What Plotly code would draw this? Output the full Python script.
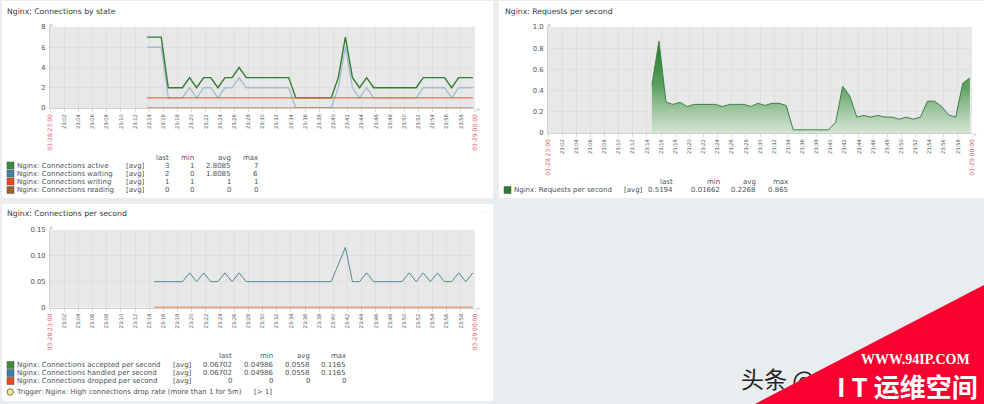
import plotly.graph_objects as go

W = 984
H = 404

# sample times, minutes after 23:00
minutes = [13.7, 14.7, 15.7, 16.7, 17.7, 18.7, 19.7, 20.7, 21.7, 22.7, 23.7, 24.7,
           25.7, 26.7, 27.7, 28.7, 29.7, 30.7, 31.7, 32.7, 33.7, 34.7, 35.7, 36.7,
           37.7, 38.7, 39.7, 40.7, 41.7, 42.7, 43.7, 44.7, 45.7, 46.7, 47.7, 48.7,
           49.7, 50.7, 51.7, 52.7, 53.7, 54.7, 55.7, 56.7, 57.7, 58.7, 59.7]

active = [7, 7, 7, 2, 2, 2, 3, 2, 3, 3, 2, 3, 3, 4, 3, 3, 3, 3, 3, 3, 3, 1, 1, 1,
          1, 1, 1, 3, 7, 3, 2, 3, 2, 2, 2, 2, 2, 2, 2, 3, 3, 3, 3, 2, 3, 3, 3]
waiting = [6, 6, 6, 1, 1, 1, 2, 1, 2, 2, 1, 2, 2, 3, 2, 2, 2, 2, 2, 2, 2, 0, 0, 0,
           0, 0, 0, 2, 6, 2, 1, 2, 1, 1, 1, 1, 1, 1, 1, 2, 2, 2, 2, 1, 2, 2, 2]
writing = [1] * 47
reading = [0] * 47

requests = [0.45, 0.865, 0.29, 0.27, 0.29, 0.25, 0.27, 0.27, 0.27, 0.27, 0.25, 0.27,
            0.27, 0.27, 0.25, 0.28, 0.26, 0.28, 0.28, 0.26, 0.03, 0.03, 0.03, 0.03,
            0.03, 0.03, 0.10, 0.44, 0.35, 0.15, 0.165, 0.15, 0.165, 0.15, 0.15, 0.13,
            0.15, 0.13, 0.15, 0.30, 0.30, 0.25, 0.17, 0.15, 0.47, 0.5194]

conn_rate = [0.05, 0.05, 0.05, 0.05, 0.05, 0.067, 0.05, 0.067, 0.05, 0.05, 0.067, 0.05,
             0.067, 0.05, 0.05, 0.05, 0.05, 0.05, 0.05, 0.05, 0.05, 0.05, 0.05, 0.05,
             0.05, 0.05, 0.083, 0.1165, 0.05, 0.05, 0.067, 0.05, 0.05, 0.05, 0.05, 0.05,
             0.067, 0.05, 0.067, 0.05, 0.067, 0.05, 0.05, 0.067, 0.05, 0.067]
dropped = [0] * 46

tick_minutes = [0, 2, 4, 6, 8, 10, 12, 14, 16, 18, 20, 22, 24, 26, 28, 30, 32, 34, 36,
                38, 40, 42, 44, 46, 48, 50, 52, 54, 56, 58, 60]
tick_times = ["23:02", "23:04", "23:06", "23:08", "23:10", "23:12", "23:14", "23:16",
              "23:18", "23:20", "23:22", "23:24", "23:26", "23:28", "23:30", "23:32",
              "23:34", "23:36", "23:38", "23:40", "23:42", "23:44", "23:46", "23:48",
              "23:50", "23:52", "23:54", "23:56", "23:58"]
red_span = '<span style="color:#e0606a;font-size:6px">%s</span>'
tick_labels = [red_span % "03-28 23:00"] + tick_times + [red_span % "03-29 00:00"]

GREEN = "#2f7d32"
BLUE = "#a3bbd0"
RED = "#e8572a"
BROWN = "#b06a30"
TEAL = "#4f8a8d"
TEXT = "#4a5257"
FONT = "DejaVu Sans"
GRID = "#dedede"


def px(x):
    return x / W


def py(y):
    return 1 - y / H


def x_axis(left, right, anchor):
    return dict(domain=[px(left), px(right)], range=[0, 60], anchor=anchor,
                tickmode="array", tickvals=tick_minutes, ticktext=tick_labels,
                tickangle=-90, ticks="outside", ticklen=3, tickcolor="#dddddd",
                tickfont=dict(family=FONT, size=5.2, color="#555555"),
                showgrid=True, gridcolor=GRID, gridwidth=1, zeroline=False,
                showline=True, linecolor="#cfcfcf", layer="below traces")


def y_axis(top, bottom, anchor, rng, vals, labels):
    return dict(domain=[py(bottom), py(top)], range=rng, anchor=anchor,
                tickmode="array", tickvals=vals, ticktext=labels, ticks="",
                ticklabelstandoff=2,
                tickfont=dict(family=FONT, size=6.8, color=TEXT),
                showgrid=True, gridcolor=GRID, gridwidth=1, zeroline=False,
                showline=True, linecolor="#cfcfcf", layer="below traces")


fig = go.Figure()


def line(xs, ys, color, width, axis=""):
    fig.add_trace(go.Scatter(x=xs, y=ys, mode="lines", line=dict(color=color, width=width),
                             xaxis="x" + axis, yaxis="y" + axis, showlegend=False,
                             cliponaxis=False))


line(minutes, waiting, BLUE, 1.3)
line(minutes, active, GREEN, 1.4)
line(minutes, writing, RED, 1)
line(minutes, reading, BROWN, 1.2)

fig.add_trace(go.Scatter(x=minutes[1:], y=requests, mode="lines", fill="tozeroy",
                         line=dict(color="#3f7f45", width=1),
                         fillgradient=dict(type="vertical",
                                           colorscale=[[0, "rgba(205,228,205,0.8)"],
                                                       [0.5, "#5fa163"],
                                                       [1, "#1f7a1f"]]),
                         xaxis="x2", yaxis="y2", showlegend=False))

line(minutes[1:], conn_rate, TEAL, 1, "3")
line(minutes[1:], dropped, RED, 1.5, "3")

# overlay in page pixels so the byline sits under the corner ribbon
fig.add_trace(go.Scatter(x=[741], y=[382], mode="text", text=["头条 @"], textposition="middle right",
                         textfont=dict(family="Noto Sans CJK SC", size=23, color="#222222"),
                         xaxis="x4", yaxis="y4", showlegend=False))

annotations = []
shapes = []


def label(x, y, text, size=7, color=TEXT, anchor="left", family=FONT):
    annotations.append(dict(x=px(x), y=py(y), xref="paper", yref="paper", text=text,
                            showarrow=False, xanchor=anchor, yanchor="middle",
                            font=dict(family=family, size=size, color=color),
                            borderpad=0, borderwidth=0))


def panel(x0, y0, x1, y1, color="white"):
    shapes.append(dict(type="rect", xref="paper", yref="paper", layer="below",
                       x0=px(x0), x1=px(x1), y0=py(y0), y1=py(y1),
                       fillcolor=color, line=dict(width=0)))


def swatch(x, y, color):
    shapes.append(dict(type="rect", xref="paper", yref="paper", layer="below",
                       x0=px(x), x1=px(x + 7), y0=py(y + 3.5), y1=py(y - 3.5),
                       fillcolor=color, line=dict(color="#4a4a4a", width=0.5)))


def legend_table(swatch_x, header_y, row_ys, names, colors, rows, avg_x, col_x):
    for col, head in zip(col_x, ["last", "min", "avg", "max"]):
        label(col, header_y, head, anchor="right")
    for y, name, color, row in zip(row_ys, names, colors, rows):
        swatch(swatch_x, y, color)
        label(swatch_x + 10, y, name)
        label(avg_x, y, "[avg]")
        for col, cell in zip(col_x, row):
            label(col, y, cell, anchor="right")


panel(2, 1, 493, 198)
panel(499, 1, 984, 198)
panel(2, 204, 493, 401)
panel(50, 27, 475, 108, "#e8e8e8")
panel(548, 27, 972, 133, "#e8e8e8")
panel(50, 230, 475, 307.5, "#e8e8e8")

label(7, 11, "Nginx: Connections by state", size=7.7, color="#2f3a40")
label(505, 11, "Nginx: Requests per second", size=7.7, color="#2f3a40")
label(7, 213, "Nginx: Connections per second", size=7.7, color="#2f3a40")

# small axis end markers
for ax, ay in [(50.5, 24), (548.5, 24), (50.5, 227)]:
    label(ax, ay, "▲", size=5, color="#d0d0d0", anchor="center")
for ax, ay in [(478, 108), (975, 133), (478, 307.5)]:
    label(ax, ay, "▸", size=6, color="#d0d0d0", anchor="center")
label(483, 212, "···", size=7, color="#e6e6e6", anchor="center")

legend_table(7, 158, [165.5, 173.5, 181.5, 190],
             ["Nginx: Connections active", "Nginx: Connections waiting",
              "Nginx: Connections writing", "Nginx: Connections reading"],
             ["#3d8b3d", "#3f7fa8", "#e8491d", "#a5622d"],
             [["3", "1", "2.8085", "7"], ["2", "0", "1.8085", "6"],
              ["1", "1", "1", "1"], ["0", "0", "0", "0"]],
             126, [169, 194, 231, 258])

legend_table(504, 182, [190], ["Nginx: Requests per second"], ["#2f7d32"],
             [["0.5194", "0.01662", "0.2268", "0.865"]],
             624, [673, 720, 756, 788])

legend_table(7, 356, [365, 373, 381],
             ["Nginx: Connections accepted per second", "Nginx: Connections handled per second",
              "Nginx: Connections dropped per second"],
             ["#3d8b3d", "#3f7fa8", "#e8491d"],
             [["0.06702", "0.04986", "0.0558", "0.1165"],
              ["0.06702", "0.04986", "0.0558", "0.1165"],
              ["0", "0", "0", "0"]],
             173, [232, 273, 310, 346])

shapes.append(dict(type="circle", xref="paper", yref="paper", layer="below",
                   x0=px(7), x1=px(13.5), y0=py(395.2), y1=py(388.8),
                   fillcolor="#f3e58a", line=dict(color="#4a4a4a", width=0.7)))
label(16, 392, "Trigger: Nginx: High connections drop rate (more than 1 for 5m)")
label(254, 392, "[> 1]")

# corner ribbon
shapes.append(dict(type="path", xref="paper", yref="paper", layer="above",
                   path="M %f %f L %f %f L %f %f Z" % (px(755), py(404), px(984), py(285), px(984), py(404)),
                   fillcolor="#f8002f", line=dict(width=0)))
label(915, 359, "<b>WWW.94IP.COM</b>", size=14, color="white", anchor="center", family="Liberation Serif")
label(907, 385, "<b>I T 运维空间</b>", size=26, color="white", anchor="center", family="Noto Sans CJK SC")

fig.update_layout(
    width=W, height=H, margin=dict(l=0, r=0, t=0, b=0, autoexpand=False), autosize=False,
    paper_bgcolor="#e9edf0", plot_bgcolor="rgba(0,0,0,0)", showlegend=False,
    xaxis=x_axis(50, 475, "y"),
    yaxis=y_axis(27, 108, "x", [0, 8], [0, 2, 4, 6, 8], ["0", "2", "4", "6", "8"]),
    xaxis2=x_axis(548, 972, "y2"),
    yaxis2=y_axis(27, 133, "x2", [0, 1], [0, 0.2, 0.4, 0.6, 0.8, 1.0],
                  ["0", "0.2", "0.4", "0.6", "0.8", "1.0"]),
    xaxis3=x_axis(50, 475, "y3"),
    yaxis3=y_axis(230, 307.5, "x3", [0, 0.15], [0, 0.05, 0.10, 0.15],
                  ["0", "0.05", "0.10", "0.15"]),
    xaxis4=dict(domain=[0, 1], range=[0, W], anchor="y4", visible=False),
    yaxis4=dict(domain=[0, 1], range=[H, 0], anchor="x4", visible=False),
    annotations=annotations, shapes=shapes,
)

fig.write_html("out.html", config=dict(displayModeBar=False),
               post_script="document.body.style.margin='0';")
